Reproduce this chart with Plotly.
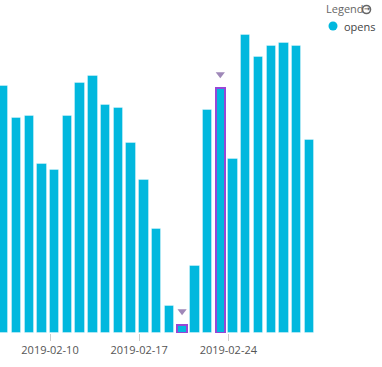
import pandas as pd
import plotly.graph_objects as go

dates = pd.date_range("2019-02-06", "2019-03-02", freq="D")
opens = [742, 645, 652, 507, 490, 652, 750, 773, 685, 677, 572, 459, 313,
         80, 23, 200, 669, 735, 523, 896, 830, 863, 871, 863, 580]
anomaly_dates = ["2019-02-20", "2019-02-23"]
tick_dates = ["2019-02-10", "2019-02-17", "2019-02-24"]
series_name = "opens"
legend_title = "Legend"

DAY = 86400000
BAR_W = 0.74 * DAY
CYAN = "#01B8DE"
PURPLE = "#9747D6"

anom_set = set(pd.to_datetime(anomaly_dates))
line_colors = [PURPLE if d in anom_set else "rgba(255,255,255,0.35)" for d in dates]
line_widths = [2 if d in anom_set else 1 for d in dates]

fig = go.Figure()
fig.add_trace(go.Bar(
    x=dates, y=opens, width=BAR_W, offset=0,
    marker=dict(color=CYAN, line=dict(color=line_colors, width=line_widths)),
    showlegend=False, name=series_name, hoverinfo="x+y",
))

ax = [pd.Timestamp(d) + pd.Timedelta(hours=0.37 * 24) for d in anomaly_dates]
ay = [opens[list(dates).index(pd.Timestamp(d))] + 42 for d in anomaly_dates]
fig.add_trace(go.Scatter(
    x=ax, y=ay, mode="markers",
    marker=dict(symbol="triangle-down", size=8, color="#9F88B8",
                line=dict(width=0)),
    showlegend=False, hoverinfo="skip",
))

start = pd.Timestamp("2019-02-06") + pd.Timedelta(days=0.075)
end = start + pd.Timedelta(days=320 / 12.738)

PW = 320.0  # plot width in px
PH = 333.0  # plot height in px

fig.update_layout(
    width=382, height=367,
    margin=dict(l=0, r=62, t=0, b=34, autoexpand=False),
    paper_bgcolor="white", plot_bgcolor="white",
    font=dict(family="Open Sans, sans-serif", size=11, color="#555"),
    bargap=0, showlegend=False,
    xaxis=dict(
        range=[start, end], type="date",
        tickvals=tick_dates, ticktext=tick_dates,
        ticks="outside", ticklen=7, tickcolor="#ccc", tickwidth=1,
        showgrid=False, showline=False, zeroline=False,
        tickfont=dict(size=11, color="#555"),
    ),
    yaxis=dict(range=[0, 1000], visible=False, fixedrange=True),
    annotations=[
        dict(text=legend_title, xref="paper", yref="paper",
             x=324 / PW, y=1 - 9 / PH, xanchor="left", yanchor="middle",
             showarrow=False, font=dict(size=11, color="#666")),
        dict(text="<b>→</b>", xref="paper", yref="paper",
             x=366.5 / PW, y=1 - 9.5 / PH, xanchor="center", yanchor="middle",
             showarrow=False, font=dict(size=7, color="#555", family="DejaVu Sans")),
        dict(text=series_name, xref="paper", yref="paper",
             x=342 / PW, y=1 - 26 / PH, xanchor="left", yanchor="middle",
             showarrow=False, font=dict(size=11, color="#444")),
    ],
    shapes=[
        dict(type="circle", xref="paper", yref="paper",
             x0=328.5 / PW, x1=337.5 / PW, y0=1 - 30.5 / PH, y1=1 - 21.5 / PH,
             fillcolor=CYAN, line=dict(width=0)),
        dict(type="circle", xref="paper", yref="paper",
             x0=362.5 / PW, x1=370.5 / PW, y0=1 - 13.5 / PH, y1=1 - 5.5 / PH,
             fillcolor="white", line=dict(width=1.6, color="#666")),
    ],
)

fig.write_html("out.html", config={"displayModeBar": False},
               post_script="document.body.style.margin='0';")
